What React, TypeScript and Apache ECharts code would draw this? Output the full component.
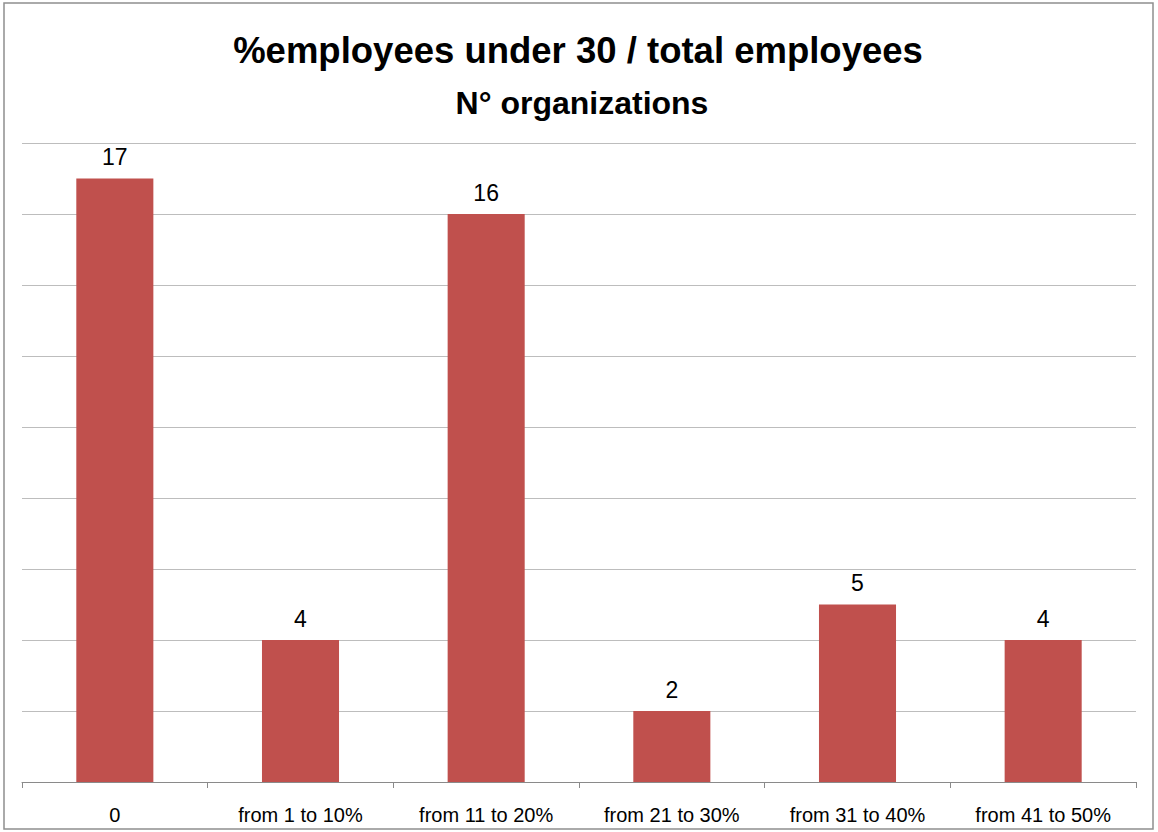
import React, { useEffect, useRef } from "react";
import * as echarts from "echarts";

const categories = ["0", "from 1 to 10%", "from 11 to 20%", "from 21 to 30%", "from 31 to 40%", "from 41 to 50%"];
const values = [17, 4, 16, 2, 5, 4];
const titleLine1 = "%employees under 30 / total employees";
const titleLine2 = "N° organizations";

export default function App() {
  const ref = useRef<HTMLDivElement>(null);
  useEffect(() => {
    if (!ref.current) return;
    const chart = echarts.init(ref.current, null, { renderer: "svg" });
    chart.setOption({
      animation: false,
      backgroundColor: "#ffffff",
      textStyle: { fontFamily: "'Liberation Sans', Arial, sans-serif" },
      graphic: [
        {
          type: "rect",
          shape: { x: 4, y: 3, width: 1149, height: 826 },
          style: { fill: "none", stroke: "#8f8f8f", lineWidth: 1.5 },
          silent: true,
        },
        {
          type: "text",
          x: 578,
          y: 50,
          style: {
            text: titleLine1,
            font: "bold 36.5px 'Liberation Sans', Arial, sans-serif",
            fill: "#000",
            align: "center",
            verticalAlign: "middle",
          },
        },
        {
          type: "text",
          x: 582,
          y: 103,
          style: {
            text: titleLine2,
            font: "bold 32px 'Liberation Sans', Arial, sans-serif",
            fill: "#000",
            align: "center",
            verticalAlign: "middle",
          },
        },
      ],
      grid: { left: 22, right: 22, top: 143, bottom: 50, containLabel: false },
      xAxis: {
        type: "category",
        data: categories,
        boundaryGap: true,
        axisLine: { show: true, lineStyle: { color: "#8a8a8a", width: 1 } },
        axisTick: { show: true, alignWithLabel: false, length: 6, lineStyle: { color: "#8a8a8a" } },
        axisLabel: { color: "#000", fontSize: 20, margin: 23, fontFamily: "'Liberation Sans', Arial, sans-serif" },
      },
      yAxis: {
        type: "value",
        min: 0,
        max: 18,
        interval: 2,
        axisLine: { show: false },
        axisTick: { show: false },
        axisLabel: { show: false },
        splitLine: { show: true, lineStyle: { color: "#bdbdbd", width: 1 } },
      },
      series: [
        {
          type: "bar",
          data: values,
          barWidth: "41.5%",
          itemStyle: { color: "#C0504D" },
          label: {
            show: true,
            position: "top",
            distance: 10,
            color: "#000",
            fontSize: 23,
            fontFamily: "'Liberation Sans', Arial, sans-serif",
          },
        },
      ],
    });
    return () => chart.dispose();
  }, []);
  return <div ref={ref} style={{ position: "absolute", left: 0, top: 0, width: 1158, height: 832 }} />;
}
